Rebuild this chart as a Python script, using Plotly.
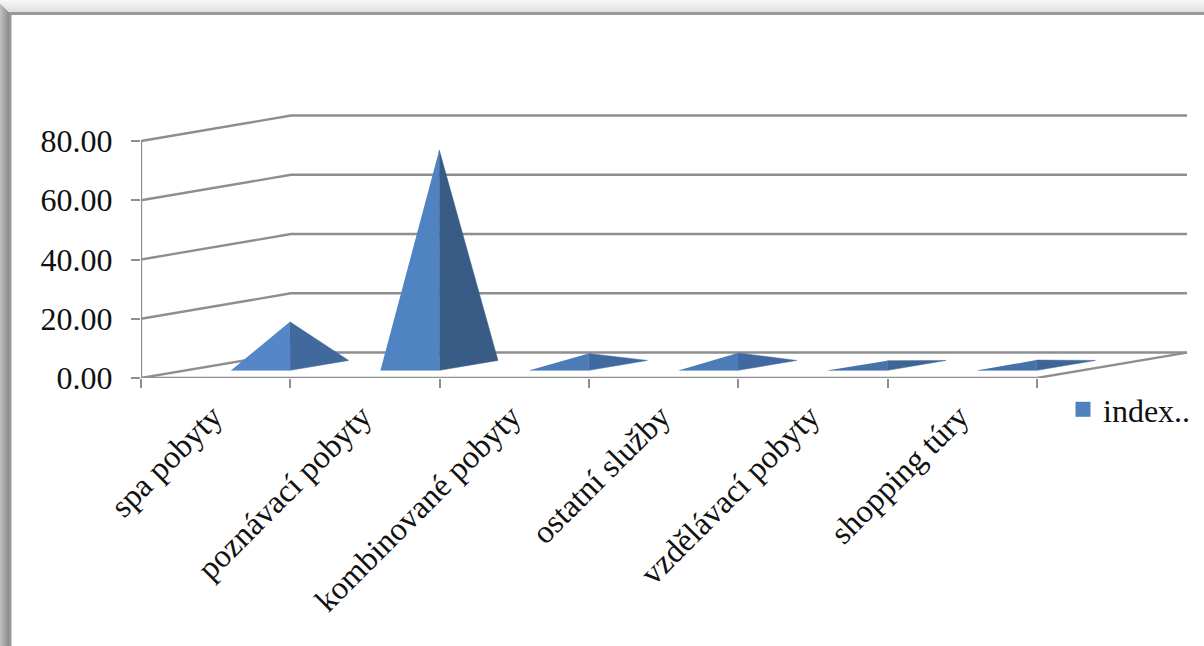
import plotly.graph_objects as go

# Service categories and their index values
categories = ["spa pobyty", "poznávací pobyty", "kombinované pobyty",
              "ostatní služby", "vzdělávací pobyty", "shopping túry"]
index_values = [14.7, 72.7, 4.0, 4.2, 1.6, 1.8]
value_ticks = [0, 20, 40, 60, 80]
value_tick_labels = ["0.00", "20.00", "40.00", "60.00", "80.00"]
series_name = "index.."
left_face_colors = ["#5587C8", "#5083C2", "#4B7CB8", "#4B7CB8", "#4672A8", "#4672A8"]
right_face_colors = ["#41699B", "#385C85", "#41699F", "#41699F", "#3D6596", "#3D6596"]

FONT = "Liberation Serif"
GRID = "#8E8E8E"
TEXT = "#111111"

# Oblique projection: one unit of depth shifts a point right and up in axis units
DEPTH_X = 1.0045
DEPTH_Y = 8.6
BASE_HALF = 0.1975
BASE_NEAR, BASE_FAR = 0.30, 0.69

W, H = 1204, 646
M_L, M_R, M_T, M_B = 141, 15, 100, 268
PW, PH = W - M_L - M_R, H - M_T - M_B


def project(x, value, depth):
    return x + depth * DEPTH_X, value + depth * DEPTH_Y


def line(points, width=2.3):
    pts = [project(*p) for p in points]
    return go.Scatter(x=[p[0] for p in pts], y=[p[1] for p in pts], mode="lines",
                      line=dict(color=GRID, width=width), hoverinfo="skip",
                      showlegend=False, cliponaxis=False)


def px_rect(x0, y0, x1, y1, color):
    return dict(type="rect", xref="paper", yref="paper", layer="below",
                x0=(x0 - M_L) / PW, x1=(x1 - M_L) / PW,
                y0=1 - (y1 - M_T) / PH, y1=1 - (y0 - M_T) / PH,
                fillcolor=color, line_width=0)


fig = go.Figure()

# Walls and floor of the 3D frame
n = len(categories)
for v in value_ticks:
    fig.add_trace(line([(0, v, 0), (0, v, 1), (n, v, 1)]))
fig.add_trace(line([(0, 0, 0), (0, value_ticks[-1], 0)]))
fig.add_trace(line([(0, 0, 0), (n, 0, 0), (n, 0, 1)]))

# Two visible faces of every pyramid
mid_depth = (BASE_NEAR + BASE_FAR) / 2
for i, value in enumerate(index_values):
    c = i + 0.5
    near_left = project(c - BASE_HALF, 0, BASE_NEAR)
    near_right = project(c + BASE_HALF, 0, BASE_NEAR)
    far_right = project(c + BASE_HALF, 0, BASE_FAR)
    apex = project(c, value, mid_depth)
    faces = [([near_left, near_right, apex], left_face_colors[i]),
             ([near_right, far_right, apex], right_face_colors[i])]
    for pts, color in faces:
        fig.add_trace(go.Scatter(
            x=[p[0] for p in pts], y=[p[1] for p in pts],
            fill="toself", fillcolor=color, mode="lines",
            line=dict(color=color, width=0.5), showlegend=False,
            name=categories[i], hoverinfo="name"))

# Legend entry
fig.add_trace(go.Scatter(x=[None], y=[None], mode="markers", name=series_name,
                         marker=dict(symbol="square", size=15, color="#4F81BD")))

# Drop shadow and border of the chart panel
shapes = []
for k in range(13):
    g = 246 - k * 2
    shapes.append(px_rect(0, k, W, k + 1, f"rgb({g},{g},{g})"))
for k in range(9):
    g = 190 - k * 6
    shapes.append(px_rect(k, k + 4, k + 1, H, f"rgb({g},{g},{g})"))
shapes.append(px_rect(9, 12, W, 15, "#9A9A9A"))
shapes.append(px_rect(9, 12, 11.5, H, "#9A9A9A"))

fig.update_layout(
    width=W, height=H, autosize=False,
    margin=dict(l=M_L, r=M_R, t=M_T, b=M_B, pad=0, autoexpand=False),
    paper_bgcolor="white", plot_bgcolor="rgba(0,0,0,0)",
    shapes=shapes,
    showlegend=True,
    legend=dict(x=(1072 - M_L) / PW, y=1 - (382 - M_T) / PH, xanchor="left", yanchor="top",
                font=dict(family=FONT, size=32, color=TEXT), bgcolor="rgba(0,0,0,0)",
                borderwidth=0, tracegroupgap=0, indentation=-9),
    xaxis=dict(range=[0, PW / 149.33], showgrid=False, zeroline=False, showline=False,
               tickmode="array", tickvals=[i + 0.5 for i in range(n)], ticktext=categories,
               tickangle=-45, ticks="", ticklabelstandoff=12, ticklabelshift=-3,
               tickfont=dict(family=FONT, size=32.5, color=TEXT),
               minor=dict(tickmode="array", tickvals=list(range(n + 1)), ticks="outside",
                          ticklen=9, tickwidth=2, tickcolor=GRID, showgrid=False)),
    yaxis=dict(range=[0, PH / 2.9625], showgrid=False, zeroline=False, showline=False,
               tickmode="array", tickvals=value_ticks, ticktext=value_tick_labels,
               ticks="outside", ticklen=9, tickwidth=2, tickcolor=GRID,
               ticklabelstandoff=12, tickfont=dict(family=FONT, size=32, color=TEXT)),
)

fig.write_html("out.html", config={"displayModeBar": False})
